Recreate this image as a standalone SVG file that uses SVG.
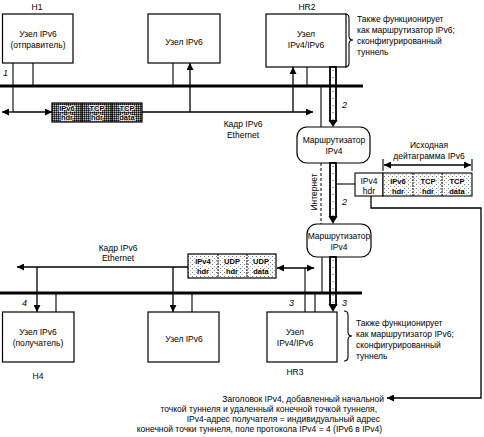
<svg xmlns="http://www.w3.org/2000/svg" width="484" height="437" viewBox="0 0 484 437">
<defs>
<marker id="ah" viewBox="0 0 10 10" refX="10" refY="5" markerWidth="8" markerHeight="7" markerUnits="userSpaceOnUse" orient="auto-start-reverse"><path d="M0,0 L10,5 L0,10 z" fill="#000"/></marker>
<pattern id="dark" width="2" height="2" patternUnits="userSpaceOnUse"><rect width="2" height="2" fill="#555"/><rect width="1" height="1" fill="#111"/><rect x="1" y="1" width="1" height="1" fill="#bbb"/></pattern>
<pattern id="light" width="4" height="4" patternUnits="userSpaceOnUse"><rect width="4" height="4" fill="#fff"/><rect width="1" height="1" fill="#777"/><rect x="2" y="2" width="1" height="1" fill="#aaa"/></pattern>
</defs>
<style>
text{font-family:"Liberation Sans",Arial,sans-serif;font-size:8.5px;fill:#000}
.c{text-anchor:middle}
.i{font-style:italic;font-size:9px}
.pw{font-size:7.5px;font-weight:bold;text-anchor:middle;stroke:#fff;stroke-width:1.6px;paint-order:stroke}
.box{fill:#fff;stroke:#000;stroke-width:1.2}
.ln{fill:none;stroke:#000;stroke-width:1.1}
.bus{fill:none;stroke:#000;stroke-width:3}
.arr{fill:none;stroke:#000;stroke-width:1.3;marker-end:url(#ah)}
.tube{fill:#fff;stroke:#000;stroke-width:1.8}
.tdot{fill:none;stroke:#555;stroke-width:1;stroke-dasharray:1 6}
</style>

<g id="H1">
<text class="c" x="37" y="10">H1</text>
<rect class="box" x="2.5" y="14" width="70.5" height="49"/>
<text class="c" x="38" y="37">Узел IPv6</text>
<text class="c" x="38" y="48">(отправитель)</text>
</g>
<g id="node-top">
<rect class="box" x="148" y="14" width="72" height="49"/>
<text class="c" x="184" y="45">Узел IPv6</text>
</g>
<g id="HR2">
<text class="c" x="307" y="10">HR2</text>
<rect class="box" x="266" y="14" width="80" height="53"/>
<text class="c" x="306" y="37">Узел</text>
<text class="c" x="306" y="48">IPv4/IPv6</text>
</g>
<g id="note-top">
<path class="ln" d="M345,14 Q349,14 349,18 V36 Q349,40 353,40 Q349,40 349,44 V63 Q349,67 345,67"/>
<text x="357" y="22">Также функционирует</text>
<text x="357" y="33">как маршрутизатор IPv6;</text>
<text x="357" y="44">сконфигурированный</text>
<text x="357" y="55">туннель</text>
</g>

<g id="R1">
<rect class="box" x="297" y="127" width="73" height="36" rx="10"/>
<text class="c" x="334" y="143">Маршрутизатор</text>
<text class="c" x="334" y="154">IPv4</text>
</g>
<g id="R2">
<rect class="box" x="307" y="224" width="64" height="33" rx="10"/>
<text class="c" x="339" y="239">Маршрутизатор</text>
<text class="c" x="339" y="250">IPv4</text>
</g>

<g id="H4">
<rect class="box" x="2.5" y="312" width="71.5" height="50"/>
<text class="c" x="38" y="335">Узел IPv6</text>
<text class="c" x="38" y="346">(получатель)</text>
<text class="c" x="38" y="379">H4</text>
</g>
<g id="node-bottom">
<rect class="box" x="148" y="312" width="71" height="50"/>
<text class="c" x="184" y="342">Узел IPv6</text>
</g>
<g id="HR3">
<rect class="box" x="267" y="312" width="70" height="50"/>
<text class="c" x="295" y="335">Узел</text>
<text class="c" x="295" y="346">IPv4/IPv6</text>
<text class="c" x="295" y="375">HR3</text>
</g>
<g id="note-bottom">
<path class="ln" d="M344,311 Q348,311 348,315 V332 Q348,336 352,336 Q348,336 348,340 V357 Q348,361 344,361"/>
<text x="356" y="326">Также функционирует</text>
<text x="356" y="337">как маршрутизатор IPv6;</text>
<text x="356" y="348">сконфигурированный</text>
<text x="356" y="359">туннель</text>
</g>

<g id="packet-top">
<rect x="52" y="103" width="90" height="19" fill="url(#dark)" stroke="#000" stroke-width="1.2"/>
<path class="ln" d="M82,103 V122 M112,103 V122"/>
<text class="pw" x="67" y="111">IPv6</text><text class="pw" x="67" y="120">hdr</text>
<text class="pw" x="97" y="111">TCP</text><text class="pw" x="97" y="120">hdr</text>
<text class="pw" x="127" y="111">TCP</text><text class="pw" x="127" y="120">data</text>
</g>
<g id="packet-mid">
<rect x="355" y="173" width="28" height="23" fill="#fff" stroke="#000" stroke-width="1.1"/>
<rect x="383" y="173" width="89" height="23" fill="url(#light)" stroke="#000" stroke-width="1.1"/>
<path fill="none" stroke="#000" stroke-width="1" stroke-dasharray="2 1" d="M413,173 V196 M442,173 V196"/>
<text class="c" x="369" y="184">IPv4</text><text class="c" x="369" y="194">hdr</text>
<text class="pw" x="398" y="184">IPv6</text><text class="pw" x="398" y="194">hdr</text>
<text class="pw" x="428" y="184">TCP</text><text class="pw" x="428" y="194">hdr</text>
<text class="pw" x="457" y="184">TCP</text><text class="pw" x="457" y="194">data</text>
<text class="c" x="429" y="148">Исходная</text>
<text class="c" x="429" y="159">дейтаграмма IPv6</text>
</g>
<g id="packet-bottom">
<rect x="188" y="254" width="88" height="24" fill="url(#light)" stroke="#000" stroke-width="1.2"/>
<path fill="none" stroke="#000" stroke-width="1" stroke-dasharray="2 1" d="M218,254 V278 M247,254 V278"/>
<text class="pw" x="203" y="264">IPv4</text><text class="pw" x="203" y="274">hdr</text>
<text class="pw" x="232" y="264">UDP</text><text class="pw" x="232" y="274">hdr</text>
<text class="pw" x="261" y="264">UDP</text><text class="pw" x="261" y="274">data</text>
</g>

<g id="tunnels">
<rect class="tube" x="330" y="67" width="6" height="54"/>
<path class="tdot" d="M333,70 V120"/>
<path d="M328.5,120 H337.5 L333,127 z"/>
<rect class="tube" x="330" y="163" width="6" height="54"/>
<path class="tdot" d="M333,166 V216"/>
<path d="M328.5,216 H337.5 L333,224 z"/>
<rect class="tube" x="330" y="257" width="6" height="48"/>
<path class="tdot" d="M333,260 V304"/>
<path d="M328.5,304 H337.5 L333,312 z"/>
</g>

<g id="connectors">
<path class="bus" d="M0,86 H363"/>
<path class="bus" d="M0,293 H362"/>
<path class="ln" stroke-width="2" d="M13,63 V112"/>
<path class="arr" d="M13,112 H2"/>
<path class="arr" d="M13,112 H52"/>
<path class="arr" d="M142,112 H313"/>
<path class="arr" d="M190,112 V63"/>
<path class="arr" d="M293,112 V67"/>
<path class="ln" d="M33,63 V86 M173,63 V86 M307,67 V86 M321,86 V127"/>
<path fill="none" stroke="#000" stroke-width="1" stroke-dasharray="3 2" d="M321,163 V224"/>
<path class="ln" d="M336,184 H355"/>
<path class="ln" d="M383,159 V171 M472,159 V171"/>
<path class="arr" style="marker-start:url(#ah)" d="M384,165 H471"/>
<path class="arr" d="M371,196 V208 H481 V398 H387"/>
<path class="arr" d="M188,267 H17"/>
<path class="arr" d="M37,267 V312"/>
<path class="arr" d="M173,267 V312"/>
<path class="arr" style="marker-start:url(#ah)" d="M277,268 H314"/>
<path class="ln" d="M305,268 V312 M56,293 V312 M192,293 V312 M315,293 V312 M322,257 V293"/>
</g>

<g id="labels">
<text class="i" x="3" y="76">1</text>
<text class="i" x="342" y="108">2</text>
<text class="i" x="342" y="205">2</text>
<text class="i" x="289" y="306">3</text>
<text class="i" x="342" y="306">3</text>
<text class="i" x="22" y="306">4</text>
<text class="c" x="243" y="127">Кадр IPv6</text>
<text class="c" x="243" y="138">Ethernet</text>
<text class="c" x="118" y="251">Кадр IPv6</text>
<text class="c" x="118" y="261">Ethernet</text>
<text class="c" transform="translate(317,192) rotate(-90)">Интернет</text>
<text x="384" y="402" text-anchor="end">Заголовок IPv4, добавленный начальной</text>
<text x="377" y="412" text-anchor="end">точкой туннеля и удаленный конечной точкой туннеля,</text>
<text x="380" y="422" text-anchor="end">IPv4-адрес получателя = индивидуальный адрес</text>
<text x="382" y="432" text-anchor="end">конечной точки туннеля, поле протокола IPv4 = 4 (IPv6 в IPv4)</text>
</g>
</svg>
